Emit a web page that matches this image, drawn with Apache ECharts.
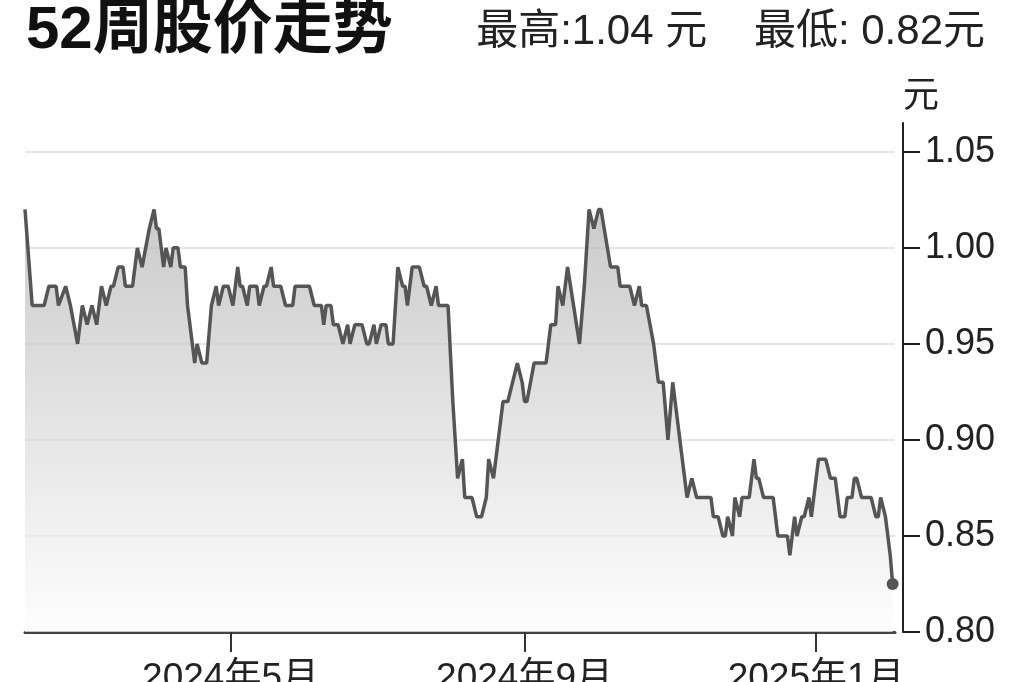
<!DOCTYPE html>
<html lang="zh-CN">
<head>
<meta charset="UTF-8">
<title>52周股价走势</title>
<script src="https://cdn.jsdelivr.net/npm/echarts@6/dist/echarts.min.js"></script>
<style>
    * { margin: 0; padding: 0; }
    body { background: #fff; }
    #main { width: 1024px; height: 682px; }
</style>
</head>
<body>
<div id="main"></div>
<script>
    // 日期 / 收盘价（读图估计，拐点）
    var dates = [
        '2024-02-05', '2024-02-08', '2024-02-13', '2024-02-15', '2024-02-18', '2024-02-19', '2024-02-22', '2024-02-24',
        '2024-02-27', '2024-02-29', '2024-03-02', '2024-03-04', '2024-03-06', '2024-03-08', '2024-03-10', '2024-03-12',
        '2024-03-13', '2024-03-15', '2024-03-17', '2024-03-18', '2024-03-21', '2024-03-23', '2024-03-25', '2024-03-28',
        '2024-03-30', '2024-03-31', '2024-04-01', '2024-04-03', '2024-04-04', '2024-04-06', '2024-04-07', '2024-04-09',
        '2024-04-10', '2024-04-12', '2024-04-13', '2024-04-16', '2024-04-17', '2024-04-19', '2024-04-21', '2024-04-23',
        '2024-04-25', '2024-04-26', '2024-04-28', '2024-04-30', '2024-05-02', '2024-05-04', '2024-05-05', '2024-05-06',
        '2024-05-08', '2024-05-09', '2024-05-12', '2024-05-13', '2024-05-15', '2024-05-16', '2024-05-18', '2024-05-19',
        '2024-05-22', '2024-05-24', '2024-05-27', '2024-05-28', '2024-06-03', '2024-06-05', '2024-06-08', '2024-06-09',
        '2024-06-10', '2024-06-12', '2024-06-13', '2024-06-15', '2024-06-17', '2024-06-19', '2024-06-20', '2024-06-22',
        '2024-06-25', '2024-06-27', '2024-06-28', '2024-06-30', '2024-07-01', '2024-07-03', '2024-07-05', '2024-07-06',
        '2024-07-08', '2024-07-10', '2024-07-12', '2024-07-13', '2024-07-14', '2024-07-16', '2024-07-19', '2024-07-21',
        '2024-07-22', '2024-07-24', '2024-07-26', '2024-07-27', '2024-07-31', '2024-08-02', '2024-08-04', '2024-08-06',
        '2024-08-07', '2024-08-10', '2024-08-12', '2024-08-14', '2024-08-16', '2024-08-17', '2024-08-19', '2024-08-21',
        '2024-08-23', '2024-08-25', '2024-08-29', '2024-08-31', '2024-09-01', '2024-09-02', '2024-09-05', '2024-09-10',
        '2024-09-12', '2024-09-14', '2024-09-15', '2024-09-17', '2024-09-19', '2024-09-24', '2024-09-26', '2024-09-28',
        '2024-09-30', '2024-10-02', '2024-10-03', '2024-10-07', '2024-10-10', '2024-10-11', '2024-10-15', '2024-10-17',
        '2024-10-19', '2024-10-20', '2024-10-22', '2024-10-25', '2024-10-27', '2024-10-29', '2024-10-31', '2024-11-02',
        '2024-11-05', '2024-11-08', '2024-11-10', '2024-11-12', '2024-11-18', '2024-11-19', '2024-11-21', '2024-11-23',
        '2024-11-24', '2024-11-25', '2024-11-27', '2024-11-28', '2024-11-30', '2024-12-01', '2024-12-04', '2024-12-06',
        '2024-12-07', '2024-12-08', '2024-12-10', '2024-12-14', '2024-12-16', '2024-12-20', '2024-12-21', '2024-12-23',
        '2024-12-24', '2024-12-26', '2024-12-27', '2024-12-29', '2024-12-30', '2025-01-02', '2025-01-05', '2025-01-07',
        '2025-01-09', '2025-01-11', '2025-01-13', '2025-01-14', '2025-01-16', '2025-01-17', '2025-01-18', '2025-01-20',
        '2025-01-24', '2025-01-26', '2025-01-27', '2025-01-28', '2025-01-30', '2025-02-01', '2025-02-02'
    ];
    var prices = [
        1.02, 0.97, 0.97, 0.98, 0.98, 0.97, 0.98, 0.97,
        0.95, 0.97, 0.96, 0.97, 0.96, 0.98, 0.97, 0.98,
        0.98, 0.99, 0.99, 0.98, 0.98, 1.00, 0.99, 1.01,
        1.02, 1.01, 1.01, 0.99, 1.00, 0.99, 1.00, 1.00,
        0.99, 0.99, 0.97, 0.94, 0.95, 0.94, 0.94, 0.97,
        0.98, 0.97, 0.98, 0.98, 0.97, 0.99, 0.98, 0.98,
        0.97, 0.98, 0.98, 0.97, 0.98, 0.98, 0.99, 0.98,
        0.98, 0.97, 0.97, 0.98, 0.98, 0.97, 0.97, 0.96,
        0.97, 0.97, 0.96, 0.96, 0.95, 0.96, 0.95, 0.96,
        0.96, 0.95, 0.95, 0.96, 0.95, 0.96, 0.96, 0.95,
        0.95, 0.99, 0.98, 0.98, 0.97, 0.99, 0.99, 0.98,
        0.98, 0.97, 0.98, 0.97, 0.97, 0.92, 0.88, 0.89,
        0.87, 0.87, 0.86, 0.86, 0.87, 0.89, 0.88, 0.90,
        0.92, 0.92, 0.94, 0.93, 0.92, 0.92, 0.94, 0.94,
        0.96, 0.96, 0.98, 0.97, 0.99, 0.95, 0.98, 1.02,
        1.01, 1.02, 1.02, 0.99, 0.99, 0.98, 0.98, 0.97,
        0.98, 0.97, 0.97, 0.95, 0.93, 0.93, 0.90, 0.93,
        0.90, 0.87, 0.88, 0.87, 0.87, 0.86, 0.86, 0.85,
        0.85, 0.86, 0.85, 0.87, 0.86, 0.87, 0.87, 0.89,
        0.88, 0.88, 0.87, 0.87, 0.85, 0.85, 0.84, 0.86,
        0.85, 0.86, 0.86, 0.87, 0.86, 0.89, 0.89, 0.88,
        0.88, 0.86, 0.86, 0.87, 0.87, 0.88, 0.88, 0.87,
        0.87, 0.86, 0.86, 0.87, 0.86, 0.84, 0.825
    ];
    var yTicks = [0.80, 0.85, 0.90, 0.95, 1.00, 1.05];
    var monthTicks = ['2024-05-01', '2024-09-01', '2025-01-01'];
    var monthLabels = ['2024年5月', '2024年9月', '2025年1月'];
    var startDate = '2024-02-05';
    var endDate = '2025-02-03';

    var fontFamily = "'Liberation Sans', 'Noto Sans CJK SC', sans-serif";

    var chartDom = document.getElementById('main');
    var myChart = echarts.init(chartDom);

    function toTime(d) { return +echarts.time.parse(d); }
    var tickTimes = monthTicks.map(toTime);
    var seriesData = dates.map(function (d, i) {
        var item = { value: [toTime(d), prices[i]] };
        if (i === dates.length - 1) {
            item.symbol = 'circle';
            item.symbolSize = 12;
        }
        return item;
    });

    var option = {
        backgroundColor: '#fff',
        animation: false,
        title: [
            {
                text: '52周股价走势',
                left: 21,
                top: -4,
                textStyle: { fontSize: 60, fontWeight: 'bold', color: '#111', fontFamily: fontFamily }
            },
            {
                text: '最高:1.04 元    最低: 0.82元',
                right: 34,
                top: 6,
                textStyle: { fontSize: 42, fontWeight: 'normal', color: '#222', fontFamily: fontFamily }
            }
        ],
        grid: { left: 25, right: 129, top: 123, bottom: 50, outerBoundsMode: 'none', containLabel: false },
        xAxis: {
            type: 'value',
            min: toTime(startDate),
            max: toTime(endDate),
            axisLine: { lineStyle: { color: '#444', width: 3 } },
            axisTick: {
                show: true,
                length: 20,
                customValues: tickTimes,
                lineStyle: { color: '#333', width: 2 }
            },
            axisLabel: {
                customValues: tickTimes,
                margin: 28,
                fontSize: 37,
                color: '#222',
                fontFamily: fontFamily,
                formatter: function (v) {
                    var i = tickTimes.indexOf(v);
                    return i >= 0 ? monthLabels[i] : '';
                }
            },
            splitLine: { show: false }
        },
        yAxis: {
            type: 'value',
            position: 'right',
            offset: 8,
            min: 0.8,
            max: 1.065,
            name: '元',
            nameLocation: 'end',
            nameGap: 8,
            nameTextStyle: {
                fontSize: 36, color: '#222', align: 'left', verticalAlign: 'bottom', fontFamily: fontFamily
            },
            axisLine: { show: true, lineStyle: { color: '#222', width: 2 } },
            axisTick: {
                show: true,
                length: 17,
                customValues: yTicks,
                lineStyle: { color: '#222', width: 2 }
            },
            axisLabel: {
                customValues: yTicks,
                margin: 22,
                fontSize: 36,
                color: '#222',
                fontFamily: fontFamily,
                formatter: function (v) { return v.toFixed(2); }
            },
            splitLine: { show: true, lineStyle: { color: '#e6e6e6', width: 2 } }
        },
        series: [
            {
                type: 'line',
                data: seriesData,
                symbol: 'none',
                itemStyle: { color: '#555' },
                lineStyle: { color: '#555', width: 3.5 },
                areaStyle: {
                    origin: 'start',
                    color: new echarts.graphic.LinearGradient(0, 0, 0, 1, [
                        { offset: 0, color: '#b4b4b4' },
                        { offset: 1, color: '#fdfdfd' }
                    ])
                }
            }
        ]
    };

    option && myChart.setOption(option);
</script>
</body>
</html>
